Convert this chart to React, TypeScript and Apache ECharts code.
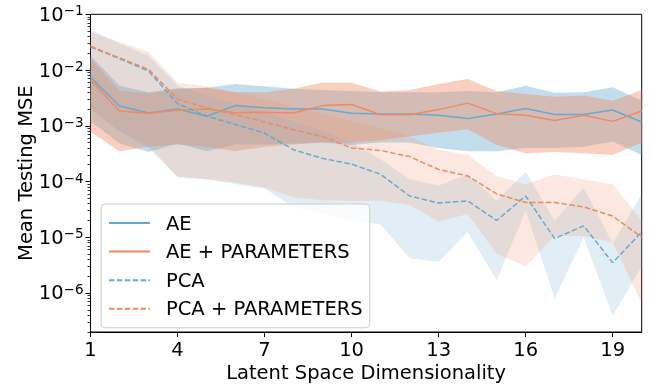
import React, { useEffect, useRef } from "react";
import * as echarts from "echarts";

// ---- data ----
const dims = [1, 2, 3, 4, 5, 6, 7, 8, 9, 10, 11, 12, 13, 14, 15, 16, 17, 18, 19, 20];

const aeMean = [7.4e-3, 2.26e-3, 1.7e-3, 2.0e-3, 1.48e-3, 2.3e-3, 2.1e-3, 2.0e-3, 2.0e-3, 1.67e-3, 1.63e-3, 1.63e-3, 1.54e-3, 1.35e-3, 1.63e-3, 2.04e-3, 1.6e-3, 1.6e-3, 1.92e-3, 1.17e-3];
const aeLow = [1.2e-3, 4.8e-4, 3.4e-4, 4.8e-4, 3.5e-4, 4.6e-4, 4.6e-4, 4.8e-4, 5.0e-4, 4.5e-4, 5.0e-4, 5.0e-4, 4.0e-4, 3.5e-4, 3.5e-4, 4.0e-4, 4.0e-4, 4.2e-4, 5.2e-4, 3.0e-4];
const aeHigh = [1.8e-2, 5.2e-3, 4.0e-3, 4.7e-3, 4.8e-3, 5.6e-3, 5.1e-3, 4.6e-3, 4.4e-3, 4.2e-3, 4.0e-3, 4.0e-3, 4.0e-3, 4.2e-3, 4.0e-3, 5.2e-3, 3.9e-3, 4.0e-3, 4.9e-3, 2.8e-3];

const aepMean = [6.7e-3, 1.84e-3, 1.67e-3, 1.9e-3, 2.0e-3, 1.72e-3, 1.75e-3, 1.7e-3, 2.3e-3, 2.4e-3, 1.58e-3, 1.58e-3, 1.95e-3, 2.55e-3, 1.65e-3, 1.54e-3, 1.24e-3, 1.54e-3, 1.2e-3, 1.84e-3];
const aepLow = [7.8e-4, 3.5e-4, 4.2e-4, 4.6e-4, 4.2e-4, 3.5e-4, 4.2e-4, 4.6e-4, 5.0e-4, 5.0e-4, 5.5e-4, 6.5e-4, 7.5e-4, 8.7e-4, 4.5e-4, 3.2e-4, 3.4e-4, 3.2e-4, 3.0e-4, 5.0e-4];
const aepHigh = [1.6e-2, 4.3e-3, 3.8e-3, 4.5e-3, 4.8e-3, 4.0e-3, 4.0e-3, 4.6e-3, 6.0e-3, 5.9e-3, 4.1e-3, 4.4e-3, 5.6e-3, 6.9e-3, 4.2e-3, 3.7e-3, 3.3e-3, 3.5e-3, 2.8e-3, 4.4e-3];

const pcaMean = [2.6e-2, 1.6e-2, 9.6e-3, 2.5e-3, 1.5e-3, 1.05e-3, 7.4e-4, 3.7e-4, 2.6e-4, 2.05e-4, 1.35e-4, 5.5e-5, 4.1e-5, 4.5e-5, 2.0e-5, 5.5e-5, 9.5e-6, 1.6e-5, 3.5e-6, 1.24e-5];
const pcaLow = [2.0e-3, 8.0e-4, 4.0e-4, 1.2e-4, 1.1e-4, 9.0e-5, 7.5e-5, 3.5e-5, 2.6e-5, 2.0e-5, 1.7e-5, 4.2e-6, 3.6e-6, 1.24e-5, 1.7e-6, 3.0e-5, 8.0e-7, 1.0e-5, 3.9e-7, 3.0e-6];
const pcaHigh = [5.3e-2, 3.0e-2, 1.8e-2, 5.3e-3, 3.5e-3, 2.5e-3, 1.8e-3, 1.2e-3, 8.0e-4, 5.0e-4, 2.5e-4, 1.1e-4, 8.5e-5, 1.35e-4, 4.5e-5, 1.5e-4, 2.0e-5, 7.7e-5, 7.7e-6, 5.9e-5];

const pcapMean = [2.67e-2, 1.65e-2, 1.03e-2, 3.0e-3, 2.1e-3, 1.58e-3, 1.17e-3, 8.5e-4, 6.4e-4, 4.0e-4, 3.6e-4, 2.8e-4, 1.64e-4, 1.26e-4, 6.0e-5, 4.2e-5, 4.2e-5, 3.5e-5, 2.4e-5, 1.0e-5];
const pcapLow = [2.0e-3, 8.0e-4, 4.5e-4, 1.2e-4, 1.1e-4, 9.5e-5, 7.7e-5, 5.2e-5, 4.6e-5, 4.5e-5, 4.5e-5, 3.8e-5, 1.9e-5, 2.6e-5, 5.0e-6, 3.0e-6, 1.05e-5, 1.05e-5, 8.0e-6, 6.6e-7];
const pcapHigh = [4.8e-2, 3.2e-2, 2.1e-2, 5.9e-3, 5.1e-3, 4.0e-3, 3.0e-3, 2.2e-3, 1.7e-3, 1.2e-3, 9.0e-4, 6.5e-4, 3.7e-4, 3.0e-4, 1.25e-4, 8.9e-5, 1.34e-4, 1.1e-4, 8.9e-5, 2.0e-5];

const seriesNames = ["AE", "AE + PARAMETERS", "PCA", "PCA + PARAMETERS"];
const xTicks = [1, 4, 7, 10, 13, 16, 19];
const yDecades = [-6, -5, -4, -3, -2, -1]; // exponents of 10
const yMinExp = -6.7;
const yMaxExp = -1;

const BLUE = "#67a9cf";
const ORANGE = "#ef8a62";
const FONT = "DejaVu Sans";

const lg = (v: number) => Math.log10(v);

function rgba(hex: string, a: number) {
  const n = parseInt(hex.slice(1), 16);
  return `rgba(${(n >> 16) & 255},${(n >> 8) & 255},${n & 255},${a})`;
}

function bandSeries(id: string, low: number[], high: number[], color: string, opacity: number) {
  return {
    type: "custom",
    name: id,
    silent: true,
    clip: true,
    z: 1,
    data: dims.map((x, i) => [x, lg(low[i]), lg(high[i])]),
    encode: { x: 0, y: [1, 2] },
    renderItem: (params: any, api: any) => {
      if (params.dataIndex !== 0) return null;
      const upper = dims.map((x, i) => api.coord([x, lg(high[i])]));
      const lower = dims.map((x, i) => api.coord([x, lg(low[i])])).reverse();
      return {
        type: "polygon",
        shape: { points: upper.concat(lower) },
        style: { fill: rgba(color, opacity), stroke: "none" },
      };
    },
  };
}

function lineSeries(name: string, values: number[], color: string, dashed: boolean) {
  return {
    type: "line",
    name,
    symbol: "none",
    color,
    lineStyle: { color, width: 1.5, type: dashed ? [5.5, 2.4] : "solid" },
    data: dims.map((x, i) => [x, lg(values[i])]),
    z: 3,
  };
}

const minorTicks: number[] = [];
for (let n = -7; n <= -2; n++) {
  for (let k = 2; k <= 9; k++) {
    const v = n + Math.log10(k);
    if (v > yMinExp && v < yMaxExp) minorTicks.push(v);
  }
}

export default function App() {
  const ref = useRef<HTMLDivElement>(null);
  useEffect(() => {
    if (!ref.current) return;
    const chart = echarts.init(ref.current, null, { renderer: "svg" });
    const option: any = {
      animation: false,
      textStyle: { fontFamily: FONT },
      grid: {
        left: 90.5,
        right: 8.3,
        top: 14.3,
        bottom: 51,
        show: true,
        borderColor: "#000",
        borderWidth: 1,
        backgroundColor: "transparent",
      },
      legend: {
        orient: "vertical",
        left: 101,
        top: 204,
        data: seriesNames,
        itemWidth: 41,
        itemHeight: 20,
        itemGap: 8.6,
        padding: [9, 7, 9, 7],
        backgroundColor: "rgba(255,255,255,0.8)",
        borderColor: "#cccccc",
        borderWidth: 1,
        borderRadius: 4,
        itemStyle: { opacity: 0 },
        textStyle: { fontFamily: FONT, fontSize: 19.5, color: "#000", lineHeight: 20, padding: [0, 0, 0, 11] },
      },
      xAxis: {
        type: "value",
        min: 1,
        max: 20,
        name: "Latent Space Dimensionality",
        nameLocation: "middle",
        nameGap: 30,
        nameMoveOverlap: false,
        nameTextStyle: { fontFamily: FONT, fontSize: 19.5, color: "#000", lineHeight: 20 },
        axisLine: { show: true, lineStyle: { color: "#000", width: 1 } },
        axisTick: { show: true, length: 5, customValues: xTicks, lineStyle: { color: "#000" } },
        axisLabel: {
          customValues: xTicks,
          fontFamily: FONT,
          fontSize: 19.5,
          lineHeight: 20,
          color: "#000",
          margin: 7,
          formatter: (v: number) => (xTicks.includes(v) ? String(v) : ""),
        },
        splitLine: { show: false },
      },
      yAxis: [
        {
          type: "value",
          min: yMinExp,
          max: yMaxExp,
          name: "Mean Testing MSE",
          nameLocation: "middle",
          nameGap: 55,
          nameMoveOverlap: false,
          nameTextStyle: { fontFamily: FONT, fontSize: 19.5, color: "#000" },
          axisLine: { show: true, lineStyle: { color: "#000", width: 1 } },
          axisTick: { show: true, length: 5, customValues: yDecades, lineStyle: { color: "#000" } },
          axisLabel: {
            customValues: yDecades,
            margin: 7,
            formatter: (v: number) => {
              if (Math.abs(v - Math.round(v)) > 1e-6) return "";
              return "{b|10}{s|\u2212" + Math.abs(Math.round(v)) + "}";
            },
            rich: {
              b: { fontFamily: FONT, fontSize: 19.5, color: "#000", lineHeight: 22 },
              s: { fontFamily: FONT, fontSize: 13.5, color: "#000", lineHeight: 14, verticalAlign: "top" },
            },
          },
          splitLine: { show: false },
        },
        {
          type: "value",
          min: yMinExp,
          max: yMaxExp,
          position: "left",
          axisLine: { show: false },
          axisTick: { show: true, length: 3, customValues: minorTicks, lineStyle: { color: "#000", width: 0.8 } },
          axisLabel: { show: false },
          splitLine: { show: false },
        },
      ],
      series: [
        bandSeries("aeBand", aeLow, aeHigh, BLUE, 0.4),
        bandSeries("aepBand", aepLow, aepHigh, ORANGE, 0.4),
        bandSeries("pcaBand", pcaLow, pcaHigh, BLUE, 0.2),
        bandSeries("pcapBand", pcapLow, pcapHigh, ORANGE, 0.2),
        lineSeries(seriesNames[0], aeMean, BLUE, false),
        lineSeries(seriesNames[1], aepMean, ORANGE, false),
        lineSeries(seriesNames[2], pcaMean, BLUE, true),
        lineSeries(seriesNames[3], pcapMean, ORANGE, true),
      ],
    };
    chart.setOption(option);
    return () => chart.dispose();
  }, []);
  return <div ref={ref} style={{ position: "fixed", left: 0, top: 0, width: 650, height: 387 }} />;
}
